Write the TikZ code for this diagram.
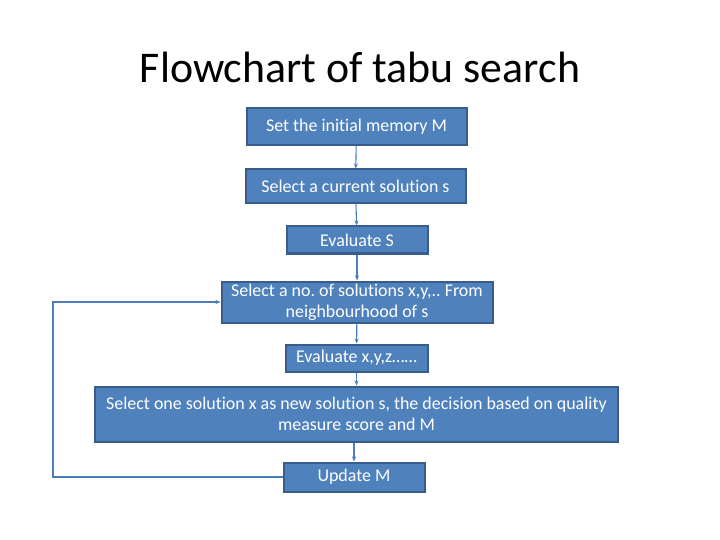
\documentclass[tikz,border=0pt]{standalone}
\usepackage{fontspec}
\setmainfont{Carlito}[Ligatures=NoCommon]
\usetikzlibrary{arrows.meta}
\definecolor{boxfill}{HTML}{4F81BD}
\definecolor{boxline}{HTML}{385D8A}
\definecolor{arrowcol}{HTML}{4A7EBB}
\frenchspacing

\begin{document}
\begin{tikzpicture}[x=1bp, y=-1bp,
        every node/.style={font=\fontsize{18}{21}\selectfont},
        box/.style={rectangle, draw=boxline, fill=boxfill, line width=2bp,
          text=white, align=center, inner sep=2bp},
        arr/.style={-{Stealth[length=5bp, width=4bp]}, line width=1.1bp, color=arrowcol}]

      \useasboundingbox (0,0) rectangle (720,540);

      \node[font=\fontsize{44}{50}\selectfont] (title) at (360,67) {Flowchart of tabu search};

      \node[box, minimum width=220bp, minimum height=37bp] (init) at (356.5,126.5)
        {Set the initial memory M};
      \node[box, minimum width=220bp, minimum height=34bp] (cur) at (355.5,186.5)
        {Select a current solution s};
      \node[box, minimum width=141bp, minimum height=27bp] (evals) at (357,240)
        {Evaluate S};
      \node[box, minimum width=271bp, minimum height=41bp] (neigh) at (357,302)
        {Select a no. of solutions x,y,.. From\\neighbourhood of s};
      \node[box, minimum width=142bp, minimum height=27bp] (evalx) at (356.5,358)
        {Evaluate x,y,z\dots\dots};
      \node[box, minimum width=522bp, minimum height=55bp] (pick) at (356.5,414)
        {Select one solution x as new solution s, the decision based on quality\\measure score and M};
      \node[box, minimum width=141bp, minimum height=29bp] (upd) at (354,477)
        {Update M};

      \draw[arr] (init) -- (cur);
      \draw[arr] (cur) -- (evals);
      \draw[arr] (evals) -- (neigh);
      \draw[arr] (neigh) -- (evalx);
      \draw[arr] (evalx) -- (pick);
      \draw[arr] (pick.south -| upd.north) -- (upd.north);

      % loop back
      \coordinate (back) at (53,0);
      \draw[arr] (upd.west) -- (upd.west -| back) |- (neigh.west);
    \end{tikzpicture}
\end{document}
